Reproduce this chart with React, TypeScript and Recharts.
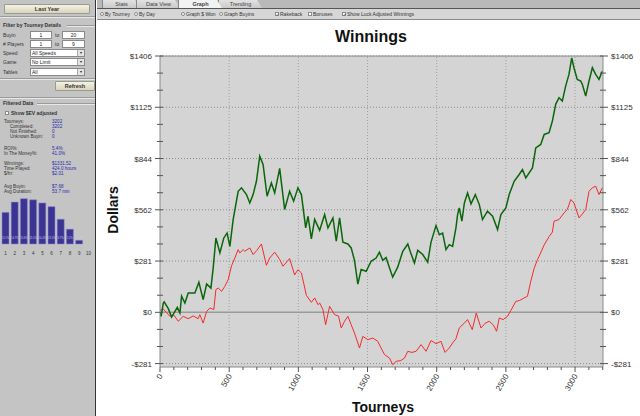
import React from "react";
import {
  LineChart,
  Line,
  XAxis,
  YAxis,
  CartesianGrid,
  ReferenceLine,
  BarChart,
  Bar,
  LabelList,
} from "recharts";

// cumulative winnings (green) and luck adjusted winnings (red)
const wonTourneys = [
  0, 8, 24, 30, 60, 84, 125, 144, 156, 180, 204, 252, 281, 312, 337, 368, 384, 404, 433, 461, 485, 505, 529,
  565, 589, 625, 649, 673, 697, 721, 745, 774, 805, 829, 865, 901, 937, 966, 997, 1022, 1053, 1070, 1094, 1118,
  1154, 1190, 1214, 1250, 1274, 1298, 1322, 1358, 1382, 1406, 1430, 1454, 1490, 1526, 1562, 1586, 1610, 1634,
  1659, 1682, 1718, 1755, 1791, 1808, 1839, 1863, 1899, 1935, 1959, 1995, 2019, 2043, 2067, 2091, 2115, 2139,
  2151, 2163, 2182, 2200, 2223, 2248, 2279, 2308, 2331, 2367, 2404, 2440, 2464, 2500, 2524, 2560, 2596, 2620,
  2644, 2692, 2716, 2752, 2777, 2812, 2836, 2860, 2884, 2908, 2932, 2956, 2976, 2992, 3016, 3041, 3053, 3077,
  3101, 3125, 3149, 3173, 3197,
];
const wonDollars = [
  0, -22, 51, 57, 20, -26, 27, -4, 88, 51, 106, 106, 165, 70, 155, 133, 240, 408, 326, 408, 435, 362, 510,
  664, 683, 646, 600, 646, 719, 857, 811, 637, 710, 655, 790, 564, 664, 610, 683, 646, 463, 527, 403, 510,
  450, 536, 463, 518, 390, 518, 385, 375, 353, 285, 155, 235, 225, 280, 298, 330, 285, 300,
  243, 193, 248, 335, 375, 335, 271, 340, 317, 275, 385, 476, 426, 435, 344, 371, 362, 463,
  536, 573, 500, 600, 655, 595, 646, 591, 509, 555, 527, 454, 536, 573, 646, 719, 756, 783,
  737, 792, 902, 921, 976, 985, 1049, 1141, 1177, 1159, 1241, 1305, 1396, 1342, 1278, 1269, 1250, 1186,
  1269, 1342, 1305, 1278, 1323,
];

const luckTourneys = [
  0, 24, 72, 100, 132, 168, 204, 240, 276, 288, 312, 337, 361, 389, 404, 421, 445, 469, 493, 517, 541, 565,
  577, 601, 613, 649, 673, 700, 733, 769, 793, 829, 865, 889, 937, 973, 997, 1022, 1058, 1094, 1118, 1142,
  1154, 1178, 1197, 1226, 1262, 1290, 1310, 1334, 1358, 1382, 1406, 1442, 1466, 1502, 1538, 1574, 1598,
  1623, 1659, 1682, 1707, 1740, 1767, 1791, 1820, 1851, 1887, 1923, 1959, 1995, 2031, 2060, 2091, 2115,
  2139, 2163, 2200, 2223, 2257, 2286, 2320, 2350, 2380, 2410, 2433, 2452, 2480, 2512, 2536, 2572, 2600,
  2632, 2656, 2680, 2704, 2728, 2740, 2777, 2812, 2836, 2848, 2884, 2920, 2944, 2969, 2992, 3029, 3053,
  3077, 3101, 3125, 3149, 3173, 3197,
];
const luckDollars = [
  11, 18, -22, -15, -49, -22, -35, -20, -35, -13, -59, 5, 24, 15, 125, 133, 115, 143, 180, 255, 298, 344,
  326, 344, 335, 353, 317, 340, 375, 258, 298, 330, 290, 253, 295, 205, 234, 216, 93, 55, 79, 42,
  51, 15, -68, 33, -13, -20, -86, -49, -22, -68, -114, -196, -132, -150, -141, -159, -196,
  -232, -251, -287, -269, -265, -251, -214, -220, -214, -177, -214, -155, -172, -159, -220, -196, -168,
  -145, -86, -59, -40, -95, -4, -86, -60, -49, -70, -104, -31, -40, -22, 10, 60, 65,
  79, 88, 170, 240, 289, 307, 370, 415, 440, 500, 509, 545, 564, 619, 600, 518, 540,
  564, 664, 683, 692, 646, 683,
];

const majorDollarTicks = [-281.25, 0, 281.25, 562.5, 843.75, 1125, 1406.25];
const majorDollarLabels = ["-$281", "$0", "$281", "$562", "$844", "$1125", "$1406"];
const minorDollarTicks = [
  -187.5, -93.75, 93.75, 187.5, 375, 468.75, 656.25, 750, 937.5, 1031.25, 1218.75, 1312.5,
];
const tourneyTicks = [
  0, 100, 200, 300, 400, 500, 600, 700, 800, 900, 1000, 1100, 1200, 1300, 1400, 1500, 1600, 1700, 1800,
  1900, 2000, 2100, 2200, 2300, 2400, 2500, 2600, 2700, 2800, 2900, 3000, 3100, 3200,
];
const tourneyGrid = [500, 1000, 1500, 2000, 2500, 3000];

// finish distribution in the side panel
const placeBuckets = ["1", "2", "3", "4", "5", "6", "7", "8", "9", "10"];
const placeShare = [11.1, 14.7, 15.9, 15.5, 14.4, 13.1, 8.7, 5.2, 1.3, 0];

const wonData = wonTourneys.map((t, i) => ({ t, v: wonDollars[i] }));
const luckData = luckTourneys.map((t, i) => ({ t, v: luckDollars[i] }));
const placeData = placeBuckets.map((p, i) => ({ p, share: placeShare[i] }));
const dollarTicks = [...majorDollarTicks, ...minorDollarTicks].sort((a, b) => a - b);

const FONT = "'Liberation Sans', Arial, sans-serif";

function dollarLabel(v: number) {
  const i = majorDollarTicks.findIndex((m) => Math.abs(m - v) < 0.01);
  return i >= 0 ? majorDollarLabels[i] : null;
}

function makeDollarTick(side: "left" | "right") {
  return (props: any) => {
    const { x, y, payload } = props;
    const label = dollarLabel(payload.value);
    const dir = side === "right" ? 1 : -1;
    const len = label ? 5 : 3;
    return (
      <g>
        <line x1={x - dir * 3} x2={x + dir * len} y1={y} y2={y} stroke="#555" />
        {label && (
          <text
            x={x + dir * (len + 3)}
            y={y}
            dy={3}
            textAnchor={side === "right" ? "start" : "end"}
            fontSize={8}
            fill="#333"
            fontFamily={FONT}
          >
            {label}
          </text>
        )}
      </g>
    );
  };
}

function TourneyTick(props: any) {
  const { x, y, payload } = props;
  const major = payload.value % 500 === 0;
  const tx = x + 3;
  const ty = y + 9;
  return (
    <g>
      <line x1={x} x2={x} y1={y} y2={y + (major ? 5 : 3)} stroke="#555" />
      {major && (
        <text
          x={tx}
          y={ty}
          transform={`rotate(-60 ${tx} ${ty})`}
          textAnchor="end"
          fontSize={8}
          fill="#333"
          fontFamily={FONT}
        >
          {payload.value}
        </text>
      )}
    </g>
  );
}

function T({ x, y, children, bold, color, size = 5, style }: any) {
  return (
    <div
      style={{
        position: "absolute",
        left: x,
        top: y - size * 0.6,
        fontSize: size,
        lineHeight: 1.2 + "",
        fontWeight: bold ? "bold" : "normal",
        color: color || "#333",
        whiteSpace: "nowrap",
        fontFamily: FONT,
        ...style,
      }}
    >
      {children}
    </div>
  );
}

function Box({ x, y, w, h, text, arrow }: any) {
  return (
    <div
      style={{
        position: "absolute",
        left: x,
        top: y,
        width: w,
        height: h,
        background: "#fff",
        border: "1px solid #8a8a8a",
        boxSizing: "border-box",
        fontSize: 5,
        fontFamily: FONT,
        lineHeight: h - 2 + "px",
        textAlign: arrow ? "left" : "center",
        paddingLeft: arrow ? 1 : 0,
        color: "#222",
      }}
    >
      {text}
      {arrow && (
        <div
          style={{
            position: "absolute",
            right: 0,
            top: 0,
            width: 6,
            height: h - 2,
            background: "#e4e4e4",
            borderLeft: "1px solid #aaa",
            fontSize: 4,
            textAlign: "center",
          }}
        >
          ▾
        </div>
      )}
    </div>
  );
}

function Button({ x, y, w, h, text }: any) {
  return (
    <div
      style={{
        position: "absolute",
        left: x,
        top: y,
        width: w,
        height: h,
        boxSizing: "border-box",
        border: "1px solid #9a9a90",
        borderRadius: 1,
        background: "linear-gradient(#f4f2e2, #d9d5bb)",
        fontSize: 5.5,
        fontWeight: "bold",
        fontFamily: FONT,
        color: "#333",
        textAlign: "center",
        lineHeight: h - 2 + "px",
      }}
    >
      {text}
    </div>
  );
}

function HLine({ x, y, w }: any) {
  return (
    <div
      style={{
        position: "absolute",
        left: x,
        top: y,
        width: w,
        height: 0,
        borderTop: "1px solid #9a9a9a",
        borderBottom: "1px solid #e8e8e8",
      }}
    />
  );
}

function Mark({ x, y, round, checked }: any) {
  return (
    <div
      style={{
        position: "absolute",
        left: x,
        top: y - 2,
        width: 4,
        height: 4,
        boxSizing: "border-box",
        border: "1px solid #8a8a8a",
        borderRadius: round ? 2 : 0,
        background: checked ? (round ? "radial-gradient(#3060c0 40%, #fff 50%)" : "#fff") : "#fff",
        fontSize: 4,
        lineHeight: "3px",
        color: "#335",
        textAlign: "center",
      }}
    >
      {checked && !round ? "✓" : ""}
    </div>
  );
}

const stats = [
  { y: 122, label: "Tourneys:", value: "3202", indent: 4 },
  { y: 127, label: "Completed:", value: "3202", indent: 10 },
  { y: 132, label: "Not Finished:", value: "0", indent: 10 },
  { y: 137, label: "Unknown Buyin:", value: "0", indent: 10 },
  { y: 149, label: "ROI%:", value: "5.4%", indent: 4 },
  { y: 154, label: "In The Money%:", value: "41.0%", indent: 4 },
  { y: 164, label: "Winnings:", value: "$1331.52", indent: 4 },
  { y: 169, label: "Time Played:", value: "424.0 hours", indent: 4 },
  { y: 174, label: "$/hr:", value: "$2.01", indent: 4 },
  { y: 187, label: "Avg Buyin:", value: "$7.68", indent: 4 },
  { y: 192, label: "Avg Duration:", value: "53.7 min", indent: 4 },
];

function SidePanel() {
  return (
    <div
      style={{
        position: "absolute",
        left: 0,
        top: 0,
        width: 96,
        height: 416,
        background: "#c4c4c4",
        borderRight: "1.5px solid #333",
        boxSizing: "border-box",
      }}
    >
      <Button x={4} y={4} w={86} h={10} text="Last Year" />
      <HLine x={0} y={16} w={95} />
      <T x={3} y={25} bold>Filter by Tourney Details</T>
      <HLine x={67} y={25} w={28} />
      <T x={3} y={34.5}>Buyin</T>
      <Box x={30} y={31} w={22} h={8} text="1" />
      <T x={55} y={34.5}>to</T>
      <Box x={62} y={31} w={23} h={8} text="20" />
      <T x={3} y={43.5}># Players</T>
      <Box x={30} y={40} w={22} h={8} text="1" />
      <T x={55} y={43.5}>to</T>
      <Box x={62} y={40} w={23} h={8} text="9" />
      <T x={3} y={53}>Speed</T>
      <Box x={30} y={49} w={55} h={8} text="All Speeds" arrow />
      <T x={3} y={62}>Game</T>
      <Box x={30} y={58} w={55} h={8} text="No Limit" arrow />
      <T x={3} y={71.5}>Tables</T>
      <Box x={30} y={67.5} w={55} h={8} text="All" arrow />
      <HLine x={0} y={78} w={95} />
      <Button x={55} y={81} w={40} h={10} text="Refresh" />
      <HLine x={0} y={97} w={95} />
      <T x={3} y={103} bold>Filtered Data</T>
      <HLine x={37} y={103} w={58} />
      <Mark x={5} y={113} checked={false} />
      <T x={11} y={113} bold>Show $EV adjusted</T>
      {stats.map((s) => (
        <React.Fragment key={s.label}>
          <T x={s.indent} y={s.y} size={4.6}>{s.label}</T>
          <T x={52} y={s.y} size={4.6} color="#2a2aa8">{s.value}</T>
        </React.Fragment>
      ))}
      <div style={{ position: "absolute", left: 0, top: 195 }}>
        <BarChart
          width={95}
          height={60}
          data={placeData}
          margin={{ top: 3.4, right: 2, bottom: 0, left: 1 }}
          barCategoryGap={1}
        >
          <XAxis
            dataKey="p"
            height={11}
            axisLine={false}
            tickLine={false}
            interval={0}
            tick={{ fontSize: 4.5, fill: "#333", fontFamily: FONT }}
          />
          <YAxis hide domain={[0, 16]} />
          <Bar dataKey="share" fill="#3b3493" stroke="#8f89d0" strokeWidth={0.5} isAnimationActive={false}>
            <LabelList
              dataKey="share"
              position="insideBottom"
              formatter={(v: any) => (v > 0 ? v + "%" : "")}
              style={{ fontSize: 2.6, fill: "#c9c6f0", fontFamily: FONT }}
            />
          </Bar>
        </BarChart>
      </div>
    </div>
  );
}

const tabs = [
  { x: 102, w: 38, text: "Stats" },
  { x: 136, w: 44, text: "Data View" },
  { x: 178, w: 44, text: "Graph", active: true },
  { x: 218, w: 44, text: "Trending" },
];

function TopBars() {
  return (
    <>
      <div
        style={{
          position: "absolute",
          left: 97,
          top: 0,
          width: 543,
          height: 8,
          background: "#b9b9b9",
          borderBottom: "1px solid #555",
        }}
      />
      {tabs.map((t) => (
        <div
          key={t.text}
          style={{
            position: "absolute",
            left: t.x,
            top: 0,
            width: t.w,
            height: 8,
            background: t.active ? "#f2f2f2" : "linear-gradient(#e2e2e2, #cacaca)",
            clipPath: "polygon(0 0, calc(100% - 5px) 0, 100% 100%, 0 100%)",
            fontSize: 5.5,
            fontWeight: t.active ? "bold" : "normal",
            fontFamily: FONT,
            color: "#444",
            textAlign: "center",
            lineHeight: "8px",
            zIndex: t.active ? 2 : 1,
            borderLeft: "1px solid #888",
            boxSizing: "border-box",
          }}
        >
          {t.text}
        </div>
      ))}
      <div
        style={{
          position: "absolute",
          left: 97,
          top: 9,
          width: 543,
          height: 10,
          background: "#d6d6d6",
          borderBottom: "1px solid #8a8a8a",
        }}
      />
      <Mark x={100} y={14} round checked />
      <T x={105} y={14}>By Tourney</T>
      <Mark x={134} y={14} round />
      <T x={139} y={14}>By Day</T>
      <Mark x={181} y={14} round checked />
      <T x={186} y={14}>Graph $ Won</T>
      <Mark x={219} y={14} round />
      <T x={224} y={14}>Graph Buyins</T>
      <Mark x={275} y={14} checked />
      <T x={280} y={14}>Rakeback</T>
      <Mark x={308} y={14} />
      <T x={313} y={14}>Bonuses</T>
      <Mark x={342} y={14} checked />
      <T x={347} y={14}>Show Luck Adjusted Winnings</T>
    </>
  );
}

function WinningsChart() {
  return (
    <div style={{ position: "absolute", left: 97, top: 20, width: 543, height: 396, background: "#fff" }}>
      <LineChart width={543} height={396} margin={{ top: 36, right: 0, bottom: 0, left: 0 }}>
        <CartesianGrid xAxisId="x" yAxisId="l" fill="#d4d4d4" stroke="none" />
        <XAxis
          xAxisId="x"
          type="number"
          dataKey="t"
          domain={[0, 3202]}
          allowDataOverflow
          ticks={tourneyTicks}
          interval={0}
          height={49}
          tickSize={0}
          tickMargin={0}
          tick={<TourneyTick />}
          stroke="#8a8a8a"
        />
        <XAxis
          xAxisId="xt"
          orientation="top"
          type="number"
          domain={[0, 3202]}
          ticks={tourneyTicks}
          interval={0}
          mirror
          height={1}
          tickSize={3}
          tick={() => <g />}
          stroke="#555"
          axisLine={{ stroke: "#8a8a8a" }}
        />
        <YAxis
          yAxisId="l"
          type="number"
          domain={[-300, 1406.25]}
          allowDataOverflow
          ticks={dollarTicks}
          interval={0}
          width={63}
          tickSize={0}
          tickMargin={0}
          tick={makeDollarTick("left")}
          stroke="#8a8a8a"
        />
        <YAxis
          yAxisId="r"
          orientation="right"
          type="number"
          domain={[-300, 1406.25]}
          allowDataOverflow
          ticks={dollarTicks}
          interval={0}
          width={37}
          tickSize={0}
          tickMargin={0}
          tick={makeDollarTick("right")}
          stroke="#8a8a8a"
        />
        {majorDollarTicks
          .filter((v) => v !== 0)
          .map((v) => (
            <ReferenceLine
              key={"h" + v}
              xAxisId="x"
              yAxisId="l"
              y={v}
              stroke="#8c8c8c"
              strokeDasharray="1 2"
            />
          ))}
        {tourneyGrid.map((v) => (
          <ReferenceLine
            key={"v" + v}
            xAxisId="x"
            yAxisId="l"
            x={v}
            stroke="#a0a0a0"
            strokeDasharray="1 2"
          />
        ))}
        <ReferenceLine xAxisId="x" yAxisId="l" y={0} stroke="#9a9a9a" strokeWidth={1.5} />
        <Line
          xAxisId="x"
          yAxisId="l"
          data={luckData}
          dataKey="v"
          type="linear"
          stroke="#f42a2a"
          strokeWidth={1}
          dot={false}
          isAnimationActive={false}
        />
        <Line
          xAxisId="x"
          yAxisId="l"
          data={wonData}
          dataKey="v"
          type="linear"
          stroke="#0b660b"
          strokeWidth={1.5}
          dot={false}
          isAnimationActive={false}
        />
      </LineChart>
      <div
        style={{
          position: "absolute",
          left: 0,
          top: 8,
          width: 548,
          textAlign: "center",
          fontSize: 16,
          fontWeight: "bold",
          fontFamily: FONT,
          color: "#111",
        }}
      >
        Winnings
      </div>
      <div
        style={{
          position: "absolute",
          left: 16,
          top: 190,
          transform: "translate(-50%, -50%) rotate(-90deg)",
          fontSize: 14,
          fontWeight: "bold",
          fontFamily: FONT,
          color: "#111",
        }}
      >
        Dollars
      </div>
      <div
        style={{
          position: "absolute",
          left: 255,
          top: 379,
          fontSize: 14,
          fontWeight: "bold",
          fontFamily: FONT,
          color: "#111",
        }}
      >
        Tourneys
      </div>
    </div>
  );
}

export default function App() {
  return (
    <div
      style={{
        position: "fixed",
        left: 0,
        top: 0,
        width: 640,
        height: 416,
        overflow: "hidden",
        background: "#fff",
        fontFamily: FONT,
      }}
    >
      <SidePanel />
      <TopBars />
      <WinningsChart />
    </div>
  );
}
